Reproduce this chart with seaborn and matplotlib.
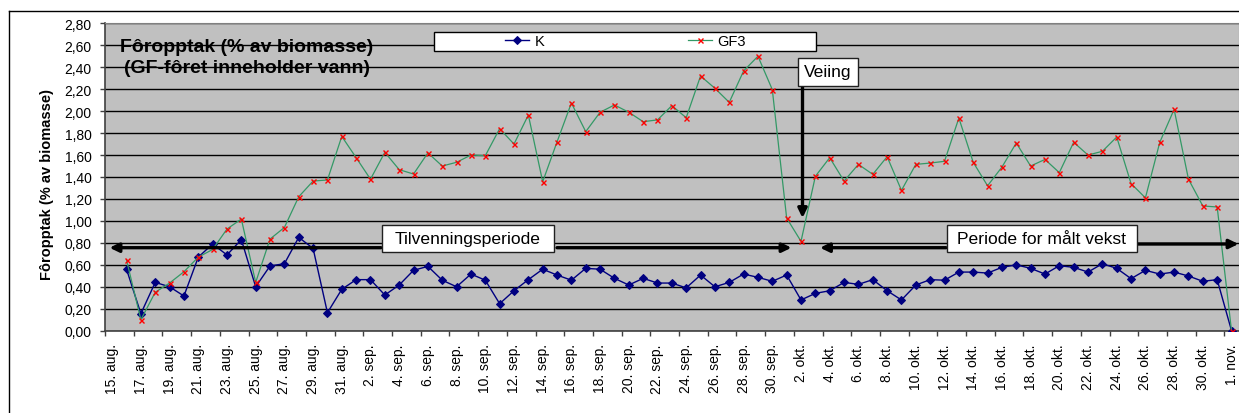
import numpy as np
import pandas as pd
import matplotlib
matplotlib.use("Agg")
import matplotlib.pyplot as plt
import matplotlib.dates as mdates
from matplotlib.patches import Rectangle
from matplotlib.lines import Line2D
import seaborn as sns

# ---------------- data ----------------
dates = pd.date_range("2006-08-15", "2006-11-01", freq="D")

k_aug = [np.nan, 0.56, 0.155, 0.44, 0.40, 0.316, 0.67, 0.79, 0.69, 0.83, 0.40,
         0.59, 0.61, 0.85, 0.75, 0.164, 0.377]
k_sep = [0.465, 0.465, 0.325, 0.416, 0.55, 0.586, 0.46, 0.40, 0.516, 0.46,
         0.246, 0.364, 0.465, 0.56, 0.507, 0.46, 0.568, 0.56, 0.477, 0.416,
         0.477, 0.434, 0.434, 0.39, 0.507, 0.40, 0.44, 0.516, 0.486, 0.45]
k_okt = [0.507, 0.28, 0.34, 0.364, 0.44, 0.422, 0.465, 0.364, 0.28, 0.416,
         0.465, 0.46, 0.534, 0.534, 0.525, 0.577, 0.60, 0.568, 0.516, 0.592,
         0.577, 0.534, 0.61, 0.568, 0.474, 0.55, 0.516, 0.534, 0.498, 0.45, 0.465]
k_nov = [0.0]

gf3_aug = [np.nan, 0.644, 0.10, 0.35, 0.434, 0.537, 0.67, 0.74, 0.926, 1.017,
           0.44, 0.835, 0.94, 1.22, 1.363, 1.373, 1.77]
gf3_sep = [1.576, 1.38, 1.625, 1.467, 1.427, 1.62, 1.50, 1.534, 1.60, 1.594,
           1.84, 1.70, 1.965, 1.357, 1.72, 2.074, 1.813, 1.99, 2.056, 1.99,
           1.904, 1.92, 2.05, 1.94, 2.32, 2.208, 2.08, 2.366, 2.50, 2.196]
gf3_okt = [1.026, 0.814, 1.406, 1.576, 1.363, 1.515, 1.424, 1.585, 1.278, 1.515,
           1.527, 1.543, 1.937, 1.534, 1.32, 1.49, 1.71, 1.50, 1.56, 1.44,
           1.716, 1.60, 1.634, 1.764, 1.34, 1.21, 1.716, 2.016, 1.38, 1.136, 1.127]
gf3_nov = [0.0]

month_names = {8: "aug.", 9: "sep.", 10: "okt.", 11: "nov."}
y_ticks = [0.0, 0.2, 0.4, 0.6, 0.8, 1.0, 1.2, 1.4, 1.6, 1.8, 2.0, 2.2, 2.4, 2.6, 2.8]

title_text = "Fôropptak (% av biomasse)\n(GF-fôret inneholder vann)"
y_label = "Fôropptak (% av biomasse)"

df = pd.DataFrame({
    "dato": dates,
    "K": k_aug + k_sep + k_okt + k_nov,
    "GF3": gf3_aug + gf3_sep + gf3_okt + gf3_nov,
})

# ---------------- figure ----------------
plt.rcParams["font.family"] = ["Liberation Sans", "DejaVu Sans"]
W, H = 1239, 414
fig = plt.figure(figsize=(W / 100, H / 100), dpi=100)
fig.patch.set_facecolor("white")


def fx(px):
    return px / W


def fy(py):
    return 1 - py / H


ax_left, ax_right, ax_top, ax_bot = 105, 1238.7, 24.3, 331.7
ax = fig.add_axes([fx(ax_left), fy(ax_bot), fx(ax_right - ax_left), (ax_bot - ax_top) / H])
ax.set_facecolor("#C0C0C0")

sns.lineplot(data=df, x="dato", y="K", ax=ax, color="#000080", lw=1.0,
             marker="D", markersize=3.6, markeredgecolor="#000080",
             markerfacecolor="#000080", label="K", zorder=3)
sns.lineplot(data=df, x="dato", y="GF3", ax=ax, color="#339966", lw=0.9,
             marker="x", markersize=3.6, markeredgecolor="#FF0000",
             markeredgewidth=1.0, label="GF3", zorder=3)

# axes limits & grid
d0 = mdates.date2num(dates[0])
d1 = mdates.date2num(dates[-1])
ax.set_xlim(d0 - 0.5, d1 + 0.5)
ax.set_ylim(0, 2.8)
ax.set_yticks(y_ticks)
ax.set_yticklabels([f"{v:.2f}".replace(".", ",") for v in y_ticks], fontsize=10)
ax.yaxis.grid(True, color="black", lw=1.0)
ax.set_axisbelow(True)
ax.xaxis.grid(False)

label_dates = dates[::2]
ax.set_xticks(mdates.date2num(label_dates))
ax.set_xticklabels([f"{d.day}. {month_names[d.month]}" for d in label_dates],
                   rotation=90, fontsize=10, va="top", ha="center")
ax.set_xticks(mdates.date2num(label_dates) - 0.5, minor=True)
ax.tick_params(axis="x", which="major", length=0, pad=9)
ax.tick_params(axis="x", which="minor", length=3.6, width=1, color="#404040")
ax.tick_params(axis="y", which="major", length=3.6, width=1, color="#404040", pad=6)
ax.set_xlabel("")

for s in ["left", "bottom"]:
    ax.spines[s].set_color("#404040")
    ax.spines[s].set_linewidth(1.2)
ax.spines["top"].set_color("#808080")
ax.spines["right"].set_color("#808080")

ax.set_ylabel(y_label, fontsize=10.5, fontweight="bold")
ax.yaxis.set_label_coords((54 - ax_left) / (ax_right - ax_left),
                          (ax_bot - 184) / (ax_bot - ax_top))

# title inside plot
ax.text(fx(247), fy(58.4), title_text, transform=fig.transFigure, ha="center",
        va="center", fontsize=14, fontweight="bold", linespacing=1.3, zorder=6)

# legend
handles, labels = ax.get_legend_handles_labels()
leg = ax.legend(handles, labels, loc="center", ncol=2, frameon=False,
                bbox_to_anchor=(fx(625.5), fy(42.2)), bbox_transform=fig.transFigure,
                fontsize=10.5, handlelength=1.65, handletextpad=0.4,
                columnspacing=9.8, borderpad=0, borderaxespad=0)
leg.set_zorder(7)
ax.add_patch(Rectangle((fx(434), fy(51.7)), fx(816 - 434), (51.7 - 32.7) / H,
                       transform=fig.transFigure, facecolor="white",
                       edgecolor="black", lw=1.0, clip_on=False, zorder=6))


# annotation boxes
def textbox(x0, x1, y0, y1, text):
    ax.add_patch(Rectangle((fx(x0), fy(y1)), fx(x1 - x0), (y1 - y0) / H,
                           transform=fig.transFigure, facecolor="white",
                           edgecolor="#202020", lw=1.0, clip_on=False, zorder=6))
    ax.text(fx((x0 + x1) / 2), fy((y0 + y1) / 2), text, transform=fig.transFigure,
            ha="center", va="center", fontsize=12.6, zorder=7)


def arrow(x_tail, y_tail, x_tip, y_tip):
    ax.annotate("", xy=(fx(x_tip), fy(y_tip)), xytext=(fx(x_tail), fy(y_tail)),
                xycoords=fig.transFigure, textcoords=fig.transFigure,
                arrowprops=dict(arrowstyle="-|>,head_length=0.45,head_width=0.22",
                                lw=2.4, color="black", shrinkA=0, shrinkB=0,
                                mutation_scale=12),
                zorder=5, annotation_clip=False)


textbox(381.7, 554, 226, 253.3, "Tilvenningsperiode")
arrow(381, 248.7, 109.5, 248.7)
arrow(557, 248.7, 791.5, 248.7)

textbox(798, 858.3, 59, 86.7, "Veiing")
arrow(802.5, 86.7, 802.5, 219)

textbox(946.7, 1136.7, 225.7, 253.3, "Periode for målt vekst")
arrow(946, 248.7, 820, 248.7)
arrow(1137.5, 245, 1238.5, 245)

# outer chart-area frame (cropped at right/bottom)
fig.add_artist(Line2D([fx(9), fx(1245)], [fy(11.7), fy(11.7)], color="black", lw=1.0))
fig.add_artist(Line2D([fx(9), fx(9)], [fy(11.7), fy(420)], color="black", lw=1.0))

fig.savefig("out.png", dpi=100, facecolor="white")
